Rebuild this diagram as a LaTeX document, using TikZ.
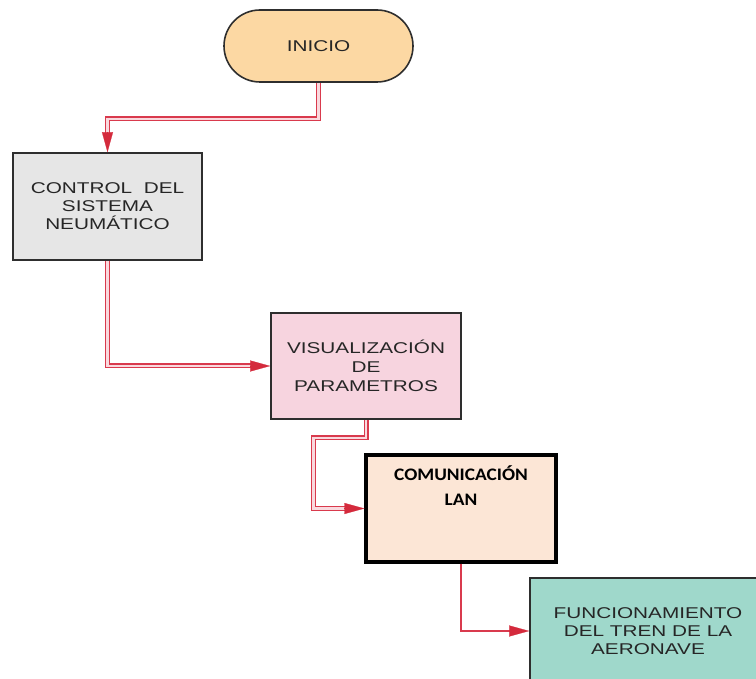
\documentclass[tikz,border=0pt]{standalone}
\usepackage{fontspec}
\setmainfont{Liberation Sans}
\newfontfamily\boxfont[FakeStretch=1.33]{Liberation Sans}
\newfontfamily\comfont[FakeStretch=1.1]{Carlito}
\usetikzlibrary{arrows.meta,calc}
\definecolor{inifill}{HTML}{FCD8A3}
\definecolor{ctlfill}{HTML}{E6E6E6}
\definecolor{visfill}{HTML}{F7D4DF}
\definecolor{comfill}{HTML}{FCE6D6}
\definecolor{funfill}{HTML}{9FD8CB}
\definecolor{edge}{HTML}{2E2E2E}
\definecolor{txt}{HTML}{262626}
\definecolor{wire}{HTML}{D93A4D}
\definecolor{wirein}{HTML}{F9D9DE}
\definecolor{headred}{HTML}{D42A3C}
\tikzset{
  boxbase/.style={draw=edge, line width=1.6pt, minimum width=189pt, minimum height=107pt,
    align=center, text=txt, font=\boxfont\fontsize{15.6}{18}\selectfont, inner sep=2pt},
  dblwire/.style={draw=wire, line width=1.4pt, double=wirein, double distance=2.2pt, shorten >=19pt},
  sglwire/.style={draw=wire, line width=2pt, shorten >=19pt},
  arrowhd/.style={draw=headred, fill=headred, line width=0.2pt, -{Triangle[length=20pt,width=11pt]}}
}
\begin{document}
\begin{tikzpicture}[x=1pt,y=-1pt]
\useasboundingbox (0,0) rectangle (756,679);
% nodes
\node[boxbase, fill=inifill, minimum height=72pt, rounded corners=36pt] (inicio) at (318.5,46) {INICIO};
\node[boxbase, fill=ctlfill] (control) at (107.5,206.5) {CONTROL~~DEL\\SISTEMA\\NEUMÁTICO};
\node[boxbase, fill=visfill, minimum width=190pt, minimum height=106pt] (vis) at (366,366) {VISUALIZACIÓN\\[1pt]DE\\[1pt]PARAMETROS};
\node[boxbase, fill=comfill, draw=black, line width=3.2pt, minimum width=190pt, text=black, inner sep=0pt] (com) at (461,508.5)
  {\parbox[c][86pt][t]{180pt}{\centering\comfont\bfseries\fontsize{17.6}{21}\selectfont COMUNICACIÓN\\[4pt]LAN}};
\node[boxbase, fill=funfill, minimum width=236pt, minimum height=106pt] (func) at (648,631) {FUNCIONAMIENTO\\DEL TREN DE LA\\AERONAVE};
% connectors
\draw[dblwire] (inicio.south) -- ++(0,36) -| (control.north);
\draw[arrowhd] ($(control.north)+(0,-20)$) -- (control.north);
\draw[dblwire] (control.south) |- (vis.west);
\draw[arrowhd] ($(vis.west)+(-20,0)$) -- (vis.west);
\draw[dblwire] (vis.south) -- ++(0,18) -| ($(com.west)+(-51,0)$) -- (com.west);
\draw[arrowhd] ($(com.west)+(-20,0)$) -- (com.west);
\draw[sglwire] (com.south) |- (func.west);
\draw[arrowhd] ($(func.west)+(-20,0)$) -- (func.west);
\end{tikzpicture}
\end{document}
